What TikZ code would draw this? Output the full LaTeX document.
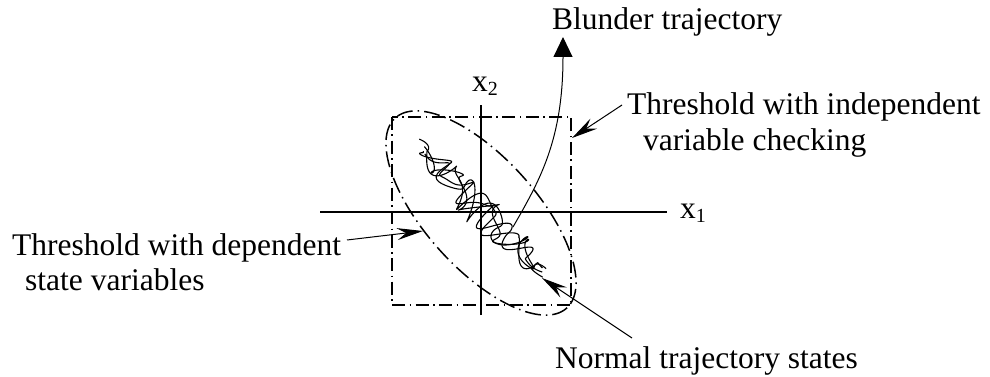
\documentclass[tikz,border=0pt]{standalone}
\usepackage{fontspec}
\setmainfont{Liberation Serif}
\usetikzlibrary{arrows.meta}
\begin{document}
\begin{tikzpicture}[x=1pt,y=-1pt,
  lbl/.style={inner sep=0pt, anchor=base west, font=\fontsize{31.5}{34}\selectfont},
  axisline/.style={line width=1.9pt},
  thr/.style={line width=1.5pt, dash pattern=on 13pt off 4.5pt on 1.5pt off 4.5pt},
  thre/.style={line width=1.5pt, dash pattern=on 16pt off 5pt on 1.5pt off 5pt},
  ptr/.style={line width=1pt, -{Stealth[length=26pt,width=12pt,inset=9pt]}},
  traj/.style={line width=1.1pt, line join=round}]
\useasboundingbox (0,0) rectangle (990,377);
% axes
\coordinate (xl) at (320,212); \coordinate (xr) at (667,212);
\coordinate (yb) at (481,315); \coordinate (yt) at (481,105);
\draw[axisline] (xl) -- (xr);
\draw[axisline] (yb) -- (yt);
% threshold square
\coordinate (sqa) at (392,117); \coordinate (sqb) at (571,305);
\draw[thr] (sqa) rectangle (sqb);
% threshold ellipse
\draw[thre] plot[domain=0:360, samples=160, variable=\t]
  ({481+128*cos(\t)*cos(48) - 55.5*sin(\t)*sin(48)},
   {213+128*cos(\t)*sin(48) + 55.5*sin(\t)*cos(48)}) -- cycle;
% trajectories
\draw[traj] plot[smooth, domain=0:1, samples=300, variable=\t]
  ({416+127*\t + 0.693*5*sin(2100*\t+10) + 0.721*(5+11*sin(180*\t))*(0.9*sin(1500*\t+30)+0.3*sin(3100*\t+70))},
   {141+132*\t + 0.721*5*sin(2100*\t+10) - 0.693*(5+11*sin(180*\t))*(0.9*sin(1500*\t+30)+0.3*sin(3100*\t+70))});
\draw[traj] plot[smooth, domain=0:1, samples=300, variable=\t]
  ({420+124*\t + 0.693*6*sin(2400*\t+100) + 0.721*(5+11*sin(180*\t))*(0.9*sin(1700*\t+200)+0.3*sin(2900*\t+10))},
   {146+128*\t + 0.721*6*sin(2400*\t+100) - 0.693*(5+11*sin(180*\t))*(0.9*sin(1700*\t+200)+0.3*sin(2900*\t+10))});
\draw[traj] plot[smooth, domain=0:1, samples=300, variable=\t]
  ({424+120*\t + 0.693*5*sin(2700*\t+200) + 0.721*(5+11*sin(180*\t))*(0.9*sin(1300*\t+120)+0.3*sin(2500*\t+300))},
   {150+124*\t + 0.721*5*sin(2700*\t+200) - 0.693*(5+11*sin(180*\t))*(0.9*sin(1300*\t+120)+0.3*sin(2500*\t+300))});
\draw[traj] plot[smooth, domain=0:1, samples=300, variable=\t]
  ({430+110*\t + 0.693*5*sin(1900*\t+300) + 0.721*(4+10*sin(180*\t))*(0.9*sin(1900*\t+280)+0.3*sin(3400*\t+150))},
   {155+115*\t + 0.721*5*sin(1900*\t+300) - 0.693*(4+10*sin(180*\t))*(0.9*sin(1900*\t+280)+0.3*sin(3400*\t+150))});
% labels
\node[lbl] (blunder) at (552,30) {Blunder trajectory};
\node[lbl] (xtwo) at (472,92) {x\raisebox{-4pt}{\fontsize{20}{20}\selectfont 2}};
\node[lbl] (xone) at (680,218) {x\raisebox{-4pt}{\fontsize{20}{20}\selectfont 1}};
\node[lbl] (indepa) at (627,115) {Threshold with independent};
\node[lbl] (indepb) at (643,150) {variable checking};
\node[lbl] (depa) at (12,255) {Threshold with dependent};
\node[lbl] (depb) at (25,290) {state variables};
\node[lbl] (normal) at (555,368) {Normal trajectory states};
% connectors
\coordinate (bs) at (513,227); \coordinate (bt) at (563,37);
\draw[line width=1pt, -{Triangle[length=20pt,width=19pt]}]
  (bs) .. controls (540,180) and (563,140) .. (bt);
\coordinate (is) at (622,105); \coordinate (ie) at (572,138);
\draw[ptr] (is) -- (ie);
\coordinate (ds) at (347,240); \coordinate (de) at (423,231);
\draw[ptr] (ds) -- (de);
\coordinate (ns) at (632,338); \coordinate (ne) at (542,278);
\draw[ptr] (ns) -- (ne);
\end{tikzpicture}
\end{document}
